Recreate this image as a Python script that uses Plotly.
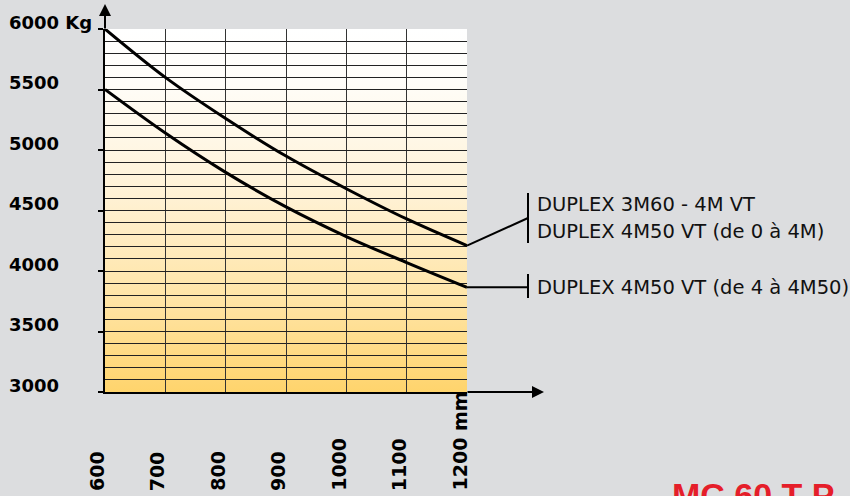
import base64
import plotly.graph_objects as go

# ---- data ----
x_mm = [600, 700, 800, 900, 1000, 1100, 1200]
upper_kg = [6000, 5600, 5260, 4950, 4680, 4430, 4210]
lower_kg = [5500, 5140, 4815, 4530, 4285, 4070, 3865]
y_ticks = [3000, 3500, 4000, 4500, 5000, 5500, 6000]
y_tick_labels = ["3000", "3500", "4000", "4500", "5000", "5500", "6000 Kg"]
x_tick_labels = ["600", "700", "800", "900", "1000", "1100", "1200 mm"]
upper_labels = ["DUPLEX 3M60 - 4M VT", "DUPLEX 4M50 VT (de 0 à 4M)"]
lower_label = "DUPLEX 4M50 VT (de 4 à 4M50)"
brand_text = "MC 60 T P"

X_RANGE = [600, 1200]
Y_RANGE = [3000, 6000]

W, H = 850, 496
ML, MR, MT, MB = 105, 383, 29, 104
PW, PH = W - ML - MR, H - MT - MB

def px(xp):
    return (xp - ML) / PW

def py(yp):
    return (H - MB - yp) / PH

def yval(v):
    return (v - Y_RANGE[0]) / (Y_RANGE[1] - Y_RANGE[0])

BG = "#DCDDDF"
LABEL_FONT = "DejaVu Sans"

# gradient background image (white at top to warm yellow at bottom)
svg = (
    '<svg xmlns="http://www.w3.org/2000/svg" width="10" height="100" viewBox="0 0 10 100" '
    'preserveAspectRatio="none"><defs><linearGradient id="g" x1="0" y1="0" x2="0" y2="1">'
    '<stop offset="0" stop-color="#FFFFFF"/>'
    '<stop offset="0.15" stop-color="#FFFDF8"/>'
    '<stop offset="0.45" stop-color="#FFF2D6"/>'
    '<stop offset="0.75" stop-color="#FFE4A5"/>'
    '<stop offset="1" stop-color="#FFD46C"/>'
    '</linearGradient></defs><rect width="10" height="100" fill="url(#g)"/></svg>'
)
svg_uri = "data:image/svg+xml;base64," + base64.b64encode(svg.encode()).decode()

fig = go.Figure()
fig.add_trace(go.Scatter(x=x_mm, y=upper_kg, mode="lines",
                         line=dict(color="black", width=3, shape="spline", smoothing=1),
                         hoverinfo="skip", showlegend=False))
fig.add_trace(go.Scatter(x=x_mm, y=lower_kg, mode="lines",
                         line=dict(color="black", width=3, shape="spline", smoothing=1),
                         hoverinfo="skip", showlegend=False))

annotations = []
# y labels (left aligned at the left edge)
for v, t in zip(y_ticks, y_tick_labels):
    annotations.append(dict(x=px(7), xref="paper", y=v, yref="y", text=t,
                            xanchor="left", yanchor="middle", yshift=7, showarrow=False,
                            font=dict(family=LABEL_FONT, size=18, color="black", weight="bold")))
# x labels, rotated
for v, t in zip(x_mm, x_tick_labels):
    annotations.append(dict(x=v, xref="x", y=py(493), yref="paper", text=t, textangle=-90,
                            xanchor="center", yanchor="bottom", xshift=-8, showarrow=False,
                            font=dict(family=LABEL_FONT, size=19, color="black", weight="bold")))
# axis arrows
annotations.append(dict(x=0, xref="paper", y=py(4), yref="paper", ax=0, ay=26, text="",
                        showarrow=True, arrowhead=2, arrowsize=1.2, arrowwidth=2, arrowcolor="black"))
annotations.append(dict(x=px(544), xref="paper", y=0, yref="paper", ax=-78, ay=0, text="",
                        showarrow=True, arrowhead=2, arrowsize=1.2, arrowwidth=2, arrowcolor="black"))
# series labels
for t, yp in zip(upper_labels, [204, 231]):
    annotations.append(dict(x=px(535), xref="paper", y=py(yp), yref="paper", text=t,
                            xanchor="left", yanchor="middle", showarrow=False,
                            font=dict(family=LABEL_FONT, size=19.5, color="#111")))
annotations.append(dict(x=px(535), xref="paper", y=py(287), yref="paper", text=lower_label,
                        xanchor="left", yanchor="middle", showarrow=False,
                        font=dict(family=LABEL_FONT, size=19.5, color="#111")))
annotations.append(dict(x=px(670), xref="paper", y=py(474), yref="paper", text=brand_text,
                        xanchor="left", yanchor="top", showarrow=False,
                        font=dict(family="Liberation Sans", size=34, color="#E51E2A", weight="bold")))

bx = px(528)
shapes = [
    dict(type="line", xref="paper", yref="paper", x0=1, y0=yval(upper_kg[-1]), x1=bx, y1=py(218),
         line=dict(color="black", width=2)),
    dict(type="line", xref="paper", yref="paper", x0=bx, y0=py(193), x1=bx, y1=py(243),
         line=dict(color="black", width=2)),
    dict(type="line", xref="paper", yref="paper", x0=1, y0=yval(lower_kg[-1]), x1=bx, y1=yval(lower_kg[-1]),
         line=dict(color="black", width=2)),
    dict(type="line", xref="paper", yref="paper", x0=bx, y0=py(274), x1=bx, y1=py(298),
         line=dict(color="black", width=2)),
]

fig.update_layout(
    width=W, height=H, autosize=False,
    margin=dict(l=ML, r=MR, t=MT, b=MB, pad=0),
    paper_bgcolor=BG, plot_bgcolor="rgba(0,0,0,0)",
    annotations=annotations, shapes=shapes,
    images=[dict(source=svg_uri, xref="x", yref="y", x=X_RANGE[0], y=Y_RANGE[1],
                 sizex=X_RANGE[1] - X_RANGE[0], sizey=Y_RANGE[1] - Y_RANGE[0],
                 sizing="stretch", layer="below", xanchor="left", yanchor="top")],
    xaxis=dict(range=X_RANGE, tick0=600, dtick=100, showgrid=True, gridcolor="#333",
               gridwidth=1, showticklabels=False, ticks="", showline=True, linecolor="black",
               linewidth=2, zeroline=False, fixedrange=True),
    yaxis=dict(range=Y_RANGE, tickvals=y_ticks, ticks="outside", ticklen=5, tickwidth=2,
               tickcolor="black", showticklabels=False, showgrid=True, gridcolor="#222",
               gridwidth=1, showline=True, linecolor="black", linewidth=2, zeroline=False,
               fixedrange=True,
               minor=dict(dtick=100, tick0=3000, showgrid=True, gridcolor="#222", gridwidth=1, ticks="")),
    showlegend=False,
)

fig.write_html("out.html", config={"displayModeBar": False},
               post_script="document.body.style.margin='0';document.body.style.background='" + BG + "';")
